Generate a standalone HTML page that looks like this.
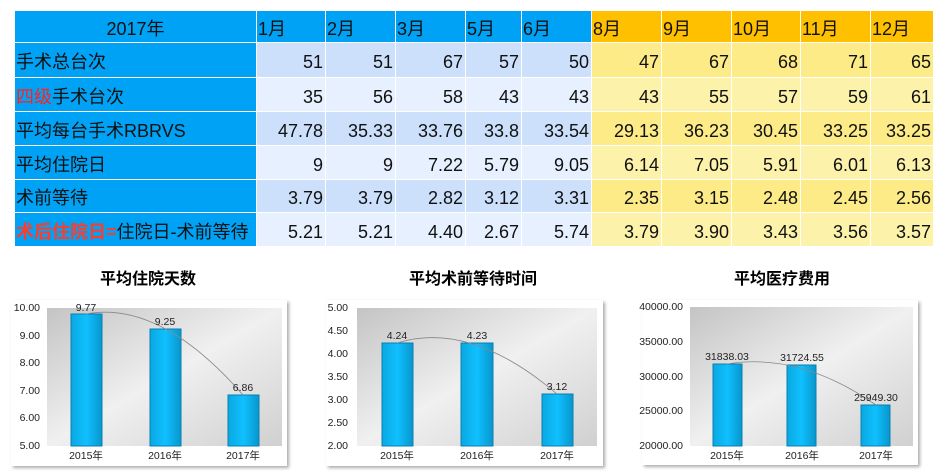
<!DOCTYPE html>
<html><head><meta charset="utf-8"><style>
body{margin:0;width:945px;height:472px;background:#fff;overflow:hidden;position:relative;font-family:"Liberation Sans","Noto Sans CJK SC",sans-serif}
.c{position:absolute;box-sizing:border-box;border-right:1px solid #fff;border-bottom:1px solid #fff;font-size:18px;line-height:34px;white-space:nowrap;color:#111;overflow:hidden}
.t{position:absolute;font-weight:bold;font-size:16px;transform:translateX(-50%);font-family:"Noto Sans CJK SC",sans-serif}
</style></head><body>
<div id="tbl"></div>
<script>
var cols=[15,257,326,396,466,522,592,662,732,801,871,934];
var rowsY=[11,43,78,112,146,180,213,247];
var hdr=['2017年','1月','2月','3月','5月','6月','8月','9月','10月','11月','12月'];
var labels=['手术总台次','<span style="color:#ff2020">四级</span>手术台次','平均每台手术RBRVS','平均住院日','术前等待','<span style="color:#ff3b2a;font-weight:bold">术后住院日=</span>住院日-术前等待'];
var data=[[51,51,67,57,50,47,67,68,71,65],[35,56,58,43,43,43,55,57,59,61],['47.78','35.33','33.76','33.8','33.54','29.13','36.23','30.45','33.25','33.25'],[9,9,'7.22','5.79','9.05','6.14','7.05','5.91','6.01','6.13'],['3.79','3.79','2.82','3.12','3.31','2.35','3.15','2.48','2.45','2.56'],['5.21','5.21','4.40','2.67','5.74','3.79','3.90','3.43','3.56','3.57']];
var h='';
for(var r=0;r<7;r++){for(var c=0;c<11;c++){
var x=cols[c],w=cols[c+1]-x,y=rowsY[r],hh=rowsY[r+1]-y,bg,txt,al='left',pad='padding-left:1px;';
if(r==0){bg=c<6?'#00a2f5':'#ffc000';txt=hdr[c];if(c==0){al='center';pad='';}}
else if(c==0){bg='#00a2f5';txt=labels[r-1];}
else{al='right';pad='padding-right:2px;';var odd=(r%2==1);
bg=c<6?(odd?'#cce0fc':'#e6f0ff'):(odd?'#fdeb88':'#fdf2aa');txt=data[r-1][c-1];}
h+='<div class="c" style="left:'+x+'px;top:'+y+'px;width:'+w+'px;height:'+hh+'px;background:'+bg+';text-align:'+al+';'+pad+'line-height:'+(hh+4)+'px">'+txt+'</div>';}}
document.getElementById('tbl').innerHTML=h;
</script>
<div class="t" style="left:148px;top:265px">平均住院天数</div>
<div class="t" style="left:473px;top:265px">平均术前等待时间</div>
<div class="t" style="left:782px;top:265px">平均医疗费用</div>
<svg width="945" height="472" style="position:absolute;left:0;top:0" font-family="Liberation Sans, Noto Sans CJK SC, sans-serif" font-size="10.5" fill="#222">
<defs>
<linearGradient id="pg" x1="0" y1="0" x2="1" y2="1"><stop offset="0" stop-color="#c4c4c4"/><stop offset="0.5" stop-color="#f0f0f0"/><stop offset="1" stop-color="#d0d0d0"/></linearGradient>
<linearGradient id="bg" x1="0" y1="0" x2="1" y2="0"><stop offset="0" stop-color="#0aa8e0"/><stop offset="0.5" stop-color="#10c0ff"/><stop offset="1" stop-color="#0896cc"/></linearGradient>
<filter id="sh"><feDropShadow dx="2" dy="2" stdDeviation="1.5" flood-color="#888" flood-opacity="0.7"/></filter>
</defs>
<rect x="11" y="300" width="276" height="166" fill="#fff" filter="url(#sh)"/>
<rect x="47" y="308" width="235" height="138" fill="url(#pg)"/>
<g text-anchor="end"><text x="40" y="311">10.00</text><text x="40" y="339">9.00</text><text x="40" y="366">8.00</text><text x="40" y="394">7.00</text><text x="40" y="421">6.00</text><text x="40" y="449">5.00</text></g>
<rect x="71" y="314" width="31" height="132" fill="url(#bg)" stroke="#0a7fb0"/>
<rect x="150" y="329" width="31" height="117" fill="url(#bg)" stroke="#0a7fb0"/>
<rect x="228" y="395" width="31" height="51" fill="url(#bg)" stroke="#0a7fb0"/>
<path d="M86 314 Q160 300 243 395" fill="none" stroke="#888" stroke-width="0.8"/>
<g text-anchor="middle"><text x="86" y="311">9.77</text><text x="165" y="325">9.25</text><text x="243" y="391">6.86</text>
<text x="86" y="459">2015年</text><text x="165" y="459">2016年</text><text x="243" y="459">2017年</text></g>
<rect x="326" y="300" width="277" height="166" fill="#fff" filter="url(#sh)"/>
<rect x="357" y="308" width="240" height="138" fill="url(#pg)"/>
<g text-anchor="end"><text x="348" y="311">5.00</text><text x="348" y="334">4.50</text><text x="348" y="357">4.00</text><text x="348" y="380">3.50</text><text x="348" y="403">3.00</text><text x="348" y="426">2.50</text><text x="348" y="449">2.00</text></g>
<rect x="382" y="343" width="31" height="103" fill="url(#bg)" stroke="#0a7fb0"/>
<rect x="461" y="343" width="32" height="103" fill="url(#bg)" stroke="#0a7fb0"/>
<rect x="542" y="394" width="31" height="52" fill="url(#bg)" stroke="#0a7fb0"/>
<path d="M397 343 Q470 320 557 394" fill="none" stroke="#888" stroke-width="0.8"/>
<g text-anchor="middle"><text x="397" y="339">4.24</text><text x="477" y="339">4.23</text><text x="557" y="390">3.12</text>
<text x="397" y="459">2015年</text><text x="477" y="459">2016年</text><text x="557" y="459">2017年</text></g>
<rect x="642" y="300" width="276" height="165" fill="#fff" filter="url(#sh)"/>
<rect x="690" y="307" width="223" height="139" fill="url(#pg)"/>
<g text-anchor="end"><text x="683" y="310">40000.00</text><text x="683" y="345">35000.00</text><text x="683" y="380">30000.00</text><text x="683" y="414">25000.00</text><text x="683" y="449">20000.00</text></g>
<rect x="713" y="364" width="29" height="82" fill="url(#bg)" stroke="#0a7fb0"/>
<rect x="787" y="365" width="29" height="81" fill="url(#bg)" stroke="#0a7fb0"/>
<rect x="861" y="405" width="29" height="41" fill="url(#bg)" stroke="#0a7fb0"/>
<path d="M727 364 Q800 352 876 405" fill="none" stroke="#888" stroke-width="0.8"/>
<g text-anchor="middle"><text x="727" y="360">31838.03</text><text x="802" y="361">31724.55</text><text x="876" y="401">25949.30</text>
<text x="727" y="459">2015年</text><text x="802" y="459">2016年</text><text x="876" y="459">2017年</text></g>
</svg>
</body></html>
